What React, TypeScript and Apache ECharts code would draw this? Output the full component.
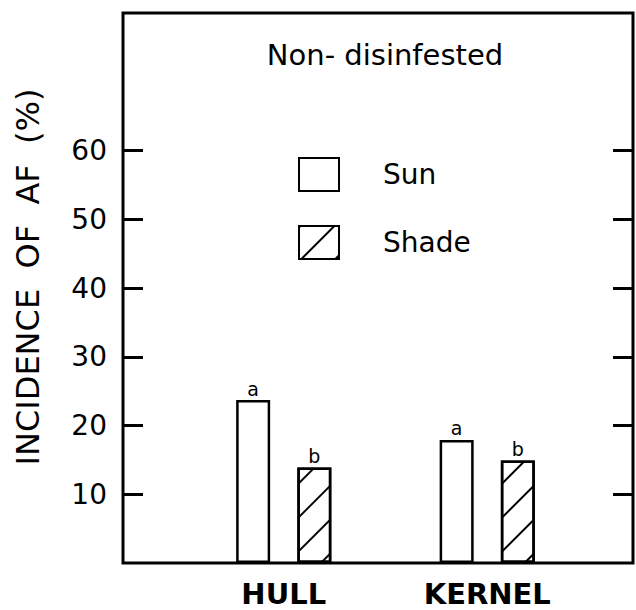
import React, { useEffect, useRef } from "react";
import * as echarts from "echarts";

const categories = ["HULL", "KERNEL"];
const sunValues = [23.7, 17.9];
const shadeValues = [13.9, 14.9];
const sunLetters = ["a", "a"];
const shadeLetters = ["b", "b"];
const yTicks = [10, 20, 30, 40, 50, 60];
const seriesNames = ["Sun", "Shade"];
const titleText = "Non- disinfested";
const yTitle = "INCIDENCE  OF  AF  (%)";

const FONT = "DejaVu Sans";

export default function App() {
  const ref = useRef<HTMLDivElement>(null);
  useEffect(() => {
    if (!ref.current) return;
    const chart = echarts.init(ref.current, null, { renderer: "svg" });
    const barStyle = {
      color: "#fff",
      borderColor: "#000",
      borderWidth: 2.5,
    };
    chart.setOption({
      animation: false,
      backgroundColor: "#fff",
      textStyle: { fontFamily: FONT, color: "#000" },
      grid: [
        { left: 123, right: 3, top: 13, bottom: 47, show: true, borderColor: "#000", borderWidth: 3, backgroundColor: "transparent" },
        { left: 182, width: 407, top: 13, bottom: 47 },
      ],
      xAxis: [
        { type: "value", gridIndex: 0, min: 0, max: 1, show: false },
        {
          type: "category",
          gridIndex: 1,
          data: categories,
          axisLine: { show: false },
          axisTick: { show: false },
          axisLabel: { fontSize: 29, lineHeight: 28, fontWeight: "bold", color: "#000", margin: 17, fontFamily: FONT },
        },
      ],
      yAxis: [
        {
          type: "value",
          gridIndex: 0,
          min: 0,
          max: 80,
          interval: 10,
          axisLine: { show: false },
          splitLine: { show: false },
          axisTick: { show: true, inside: true, length: 20, lineStyle: { color: "#000", width: 3 }, customValues: yTicks },
          axisLabel: { fontSize: 28, color: "#000", margin: 16, customValues: yTicks, fontFamily: FONT },
        },
        {
          type: "value",
          gridIndex: 0,
          position: "right",
          min: 0,
          max: 80,
          interval: 10,
          axisLine: { show: false },
          splitLine: { show: false },
          axisTick: { show: true, inside: true, length: 20, lineStyle: { color: "#000", width: 3 }, customValues: yTicks },
          axisLabel: { show: false },
        },
        { type: "value", gridIndex: 1, min: 0, max: 80, show: false },
      ],
      legend: {
        orient: "vertical",
        left: 293,
        top: 152,
        icon: "rect",
        itemWidth: 40,
        itemHeight: 33,
        itemGap: 33,
        data: seriesNames,
        textStyle: { fontSize: 28, color: "#000", padding: [0, 0, 0, 39], fontFamily: FONT },
      },
      series: [
        {
          name: seriesNames[0],
          type: "bar",
          xAxisIndex: 1,
          yAxisIndex: 2,
          barWidth: 34,
          barGap: "80%",
          itemStyle: barStyle,
          label: {
            show: true,
            position: "top",
            distance: 2,
            fontSize: 19,
            color: "#000",
            formatter: (p: any) => sunLetters[p.dataIndex],
          },
          data: sunValues,
        },
        {
          name: seriesNames[1],
          type: "bar",
          xAxisIndex: 1,
          yAxisIndex: 2,
          barWidth: 34,
          itemStyle: {
            ...barStyle,
            decal: {
              symbol: "rect",
              symbolSize: 1,
              color: "#000",
              backgroundColor: "#fff",
              dashArrayX: [1, 0],
              dashArrayY: [1.5, 22],
              rotation: -Math.PI / 4,
            },
          },
          label: {
            show: true,
            position: "top",
            distance: 2,
            fontSize: 19,
            color: "#000",
            formatter: (p: any) => shadeLetters[p.dataIndex],
          },
          data: shadeValues,
        },
      ],
      graphic: [
        {
          type: "text",
          x: 385,
          y: 55,
          style: { text: titleText, fontSize: 29, fontFamily: FONT, fill: "#000", textAlign: "center", textVerticalAlign: "middle" },
        },
        {
          type: "text",
          x: 28,
          y: 277,
          rotation: Math.PI / 2,
          style: { text: yTitle, fontSize: 32, fontFamily: FONT, fill: "#000", textAlign: "center", textVerticalAlign: "middle" },
        },
      ],
    });
    return () => chart.dispose();
  }, []);
  return <div ref={ref} style={{ position: "fixed", left: 0, top: 0, width: 636, height: 610 }} />;
}
